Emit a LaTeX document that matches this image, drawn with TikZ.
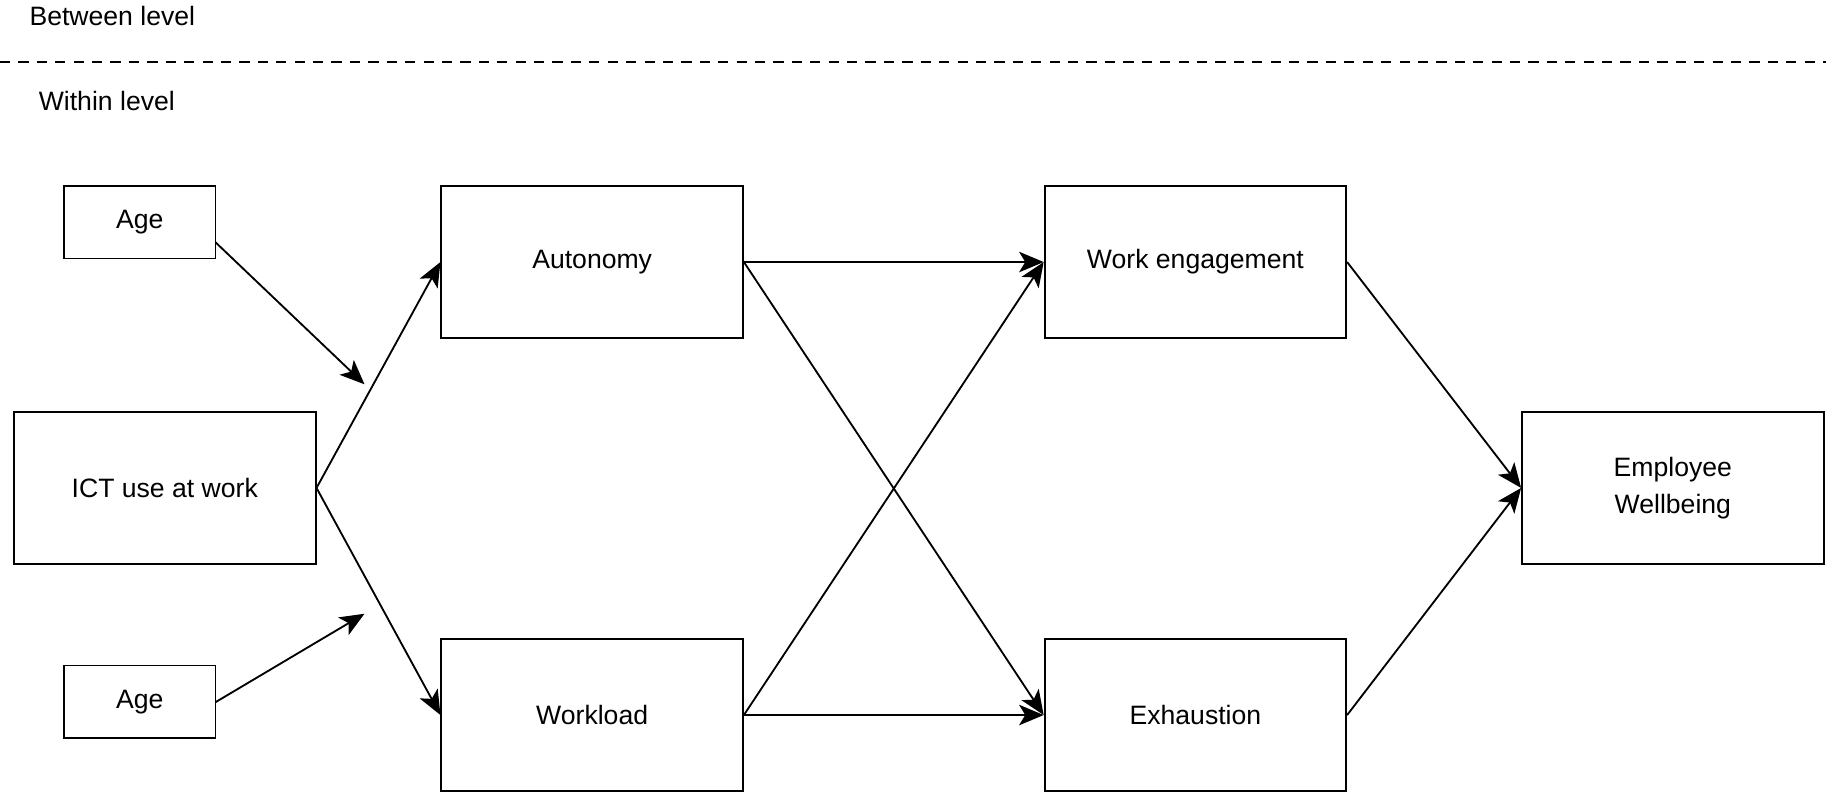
\documentclass[tikz,border=0pt]{standalone}
\usepackage{fontspec}
\setmainfont{Liberation Sans}
\usetikzlibrary{arrows.meta}
\begin{document}
\begin{tikzpicture}[x=0.02cm,y=-0.02cm,
  box/.style={draw,line width=0.9pt,inner sep=0pt,align=center,font=\fontsize{13pt}{18pt}\selectfont},
  arr/.style={line width=0.9pt,-{Stealth[length=12pt,width=10pt,inset=3pt]}},
  lab/.style={anchor=west,inner sep=0pt,font=\fontsize{13pt}{15pt}\selectfont}]
\useasboundingbox (0,0) rectangle (1568,680);
\node[lab] (bl) at (25,14) {Between level};
\node[lab] (wl) at (33,87) {Within level};
\coordinate (d1) at (0,53); \coordinate (d2) at (1568,53);
\draw[line width=0.9pt,dash pattern=on 5pt off 4pt] (d1) -- (d2);
\node[box,minimum width=130*0.02cm,minimum height=62*0.02cm] (age1) at (120,191) {Age};
\node[box,minimum width=130*0.02cm,minimum height=62*0.02cm] (age2) at (120,602.5) {Age};
\node[box,minimum width=259*0.02cm,minimum height=130*0.02cm] (ict) at (141.5,419) {ICT use at work};
\node[box,minimum width=259*0.02cm,minimum height=130*0.02cm] (aut) at (508.5,225) {Autonomy};
\node[box,minimum width=259*0.02cm,minimum height=130*0.02cm] (wlo) at (508.5,614) {Workload};
\node[box,minimum width=259*0.02cm,minimum height=130*0.02cm] (we) at (1026.5,225) {Work engagement};
\node[box,minimum width=259*0.02cm,minimum height=130*0.02cm] (ex) at (1026.5,614) {Exhaustion};
\node[box,minimum width=259*0.02cm,minimum height=130*0.02cm] (ew) at (1436.5,419) {Employee\\Wellbeing};
\coordinate (m1) at (313,330); \coordinate (m2) at (313,527);
\coordinate (a1) at (185,208); \coordinate (a2) at (185,603);
\draw[arr] (ict.east) -- (aut.west);
\draw[arr] (ict.east) -- (wlo.west);
\draw[arr] (a1) -- (m1);
\draw[arr] (a2) -- (m2);
\draw[arr] (aut.east) -- (we.west);
\draw[arr] (aut.east) -- (ex.west);
\draw[arr] (wlo.east) -- (ex.west);
\draw[arr] (wlo.east) -- (we.west);
\draw[arr] (we.east) -- (ew.west);
\draw[arr] (ex.east) -- (ew.west);
\end{tikzpicture}
\end{document}
